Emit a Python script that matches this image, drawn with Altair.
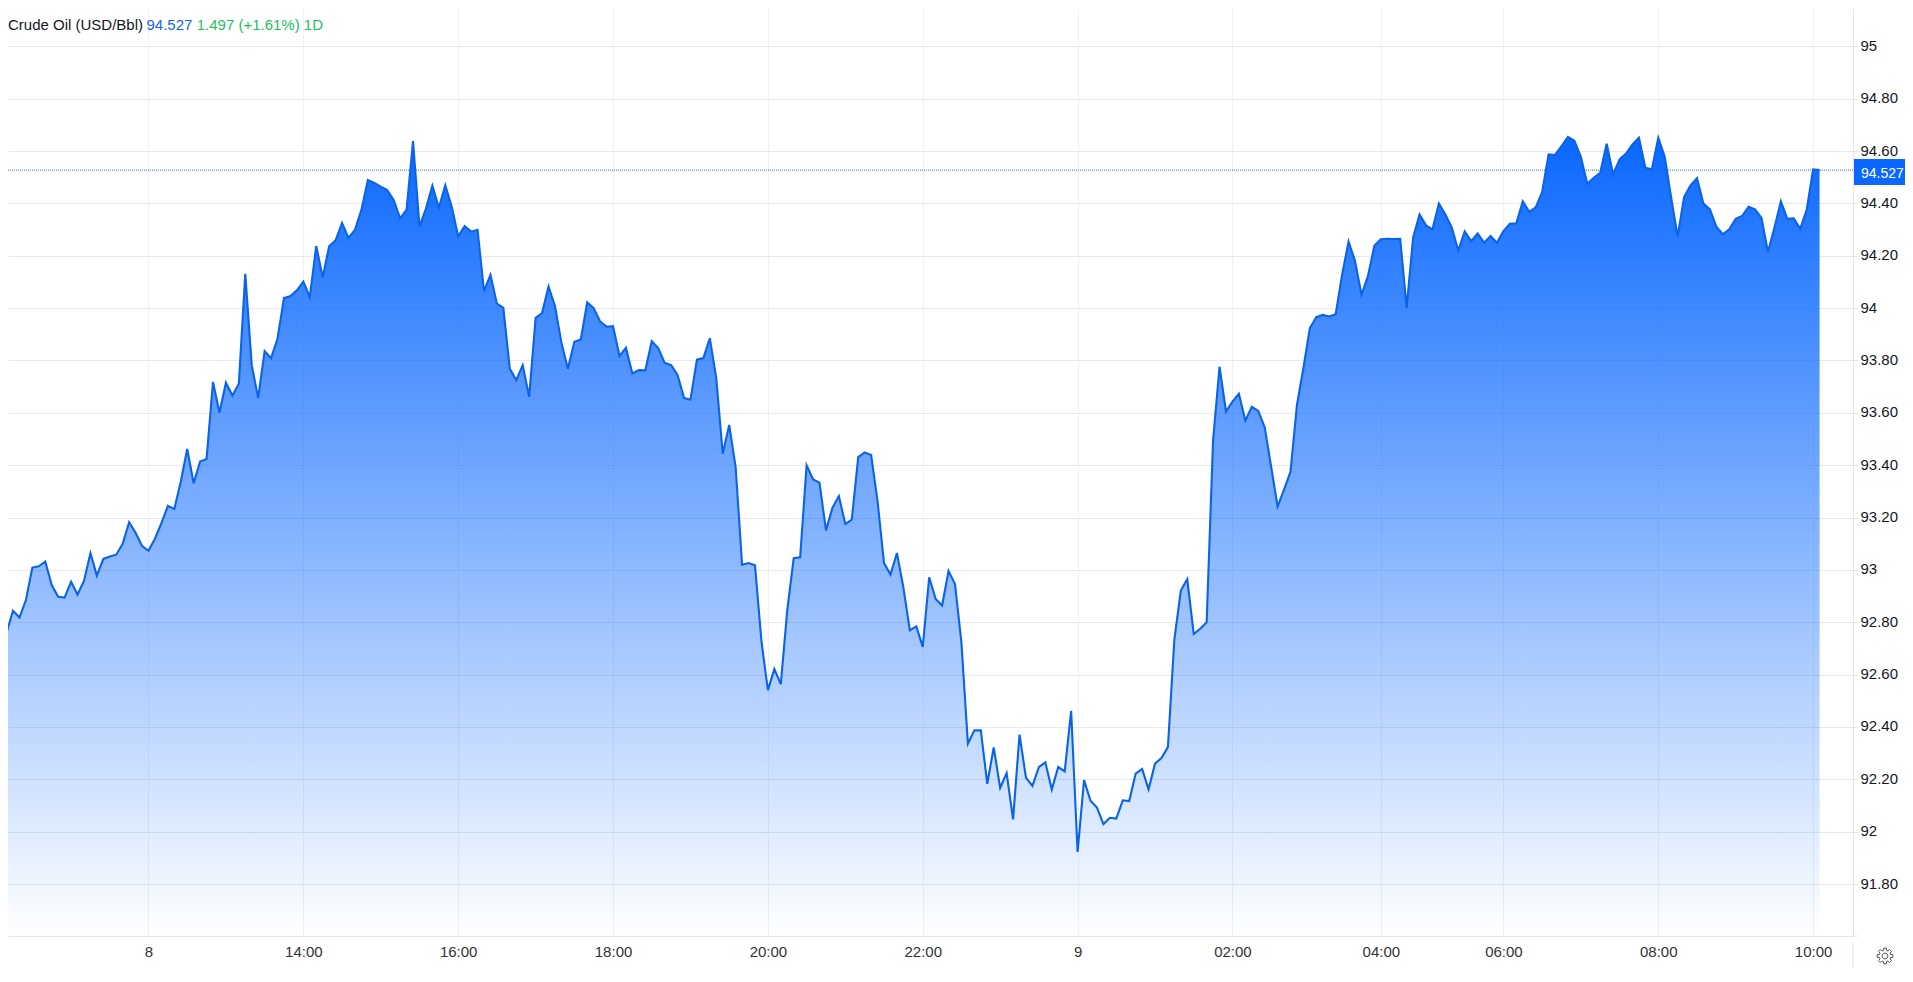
import math

import altair as alt
import pandas as pd

prices = [
    92.686, 92.76,
    92.844, 92.818, 92.885, 93.009, 93.014, 93.032, 92.942, 92.897, 92.894, 92.955,
    92.906, 92.958, 93.064, 92.978, 93.042, 93.051, 93.058, 93.10, 93.182, 93.142,
    93.091, 93.073, 93.119, 93.179, 93.244, 93.233, 93.337, 93.462, 93.331, 93.414,
    93.424, 93.718, 93.60, 93.715, 93.666, 93.711, 94.131, 93.782, 93.656, 93.836,
    93.809, 93.884, 94.038, 94.046, 94.068, 94.101, 94.042, 94.237, 94.118, 94.236,
    94.259, 94.325, 94.268, 94.299, 94.375, 94.489, 94.478, 94.464, 94.451, 94.413,
    94.343, 94.376, 94.638, 94.311, 94.38, 94.468, 94.383, 94.469, 94.387, 94.274,
    94.313, 94.292, 94.299, 94.065, 94.127, 94.017, 94.001, 93.768, 93.725, 93.782,
    93.661, 93.963, 93.981, 94.082, 94.008, 93.868, 93.768, 93.871, 93.88, 94.022,
    94.0, 93.949, 93.929, 93.931, 93.817, 93.848, 93.75, 93.763, 93.762, 93.874,
    93.847, 93.791, 93.782, 93.745, 93.657, 93.65, 93.803, 93.809, 93.885, 93.732,
    93.444, 93.554, 93.393, 93.02, 93.026, 93.018, 92.728, 92.541, 92.621, 92.564,
    92.845, 93.045, 93.048, 93.399, 93.346, 93.333, 93.151, 93.237, 93.282, 93.175,
    93.192, 93.431, 93.449, 93.439, 93.262, 93.026, 92.982, 93.064, 92.933, 92.769,
    92.784, 92.706, 92.972, 92.889, 92.864, 92.996, 92.946, 92.721, 92.336, 92.387,
    92.387, 92.183, 92.322, 92.167, 92.224, 92.047, 92.371, 92.206, 92.175, 92.247,
    92.265, 92.161, 92.247, 92.23, 92.462, 91.923, 92.197, 92.118, 92.092, 92.029,
    92.053, 92.05, 92.12, 92.117, 92.222, 92.24, 92.162, 92.26, 92.281, 92.323,
    92.735, 92.921, 92.965, 92.755, 92.775, 92.80, 93.496, 93.776, 93.605, 93.643,
    93.673, 93.57, 93.623, 93.607, 93.545, 93.394, 93.242, 93.307, 93.375, 93.63,
    93.771, 93.924, 93.966, 93.974, 93.968, 93.977, 94.128, 94.254, 94.18, 94.051,
    94.122, 94.238, 94.263, 94.265, 94.264, 94.265, 94.001, 94.269, 94.358, 94.316,
    94.301, 94.40, 94.358, 94.307, 94.22, 94.293, 94.256, 94.285, 94.25, 94.275,
    94.25, 94.294, 94.322, 94.324, 94.408, 94.368, 94.385, 94.443, 94.587, 94.585,
    94.619, 94.654, 94.639, 94.578, 94.475, 94.498, 94.517, 94.628, 94.511, 94.568,
    94.59, 94.625, 94.651, 94.536, 94.53, 94.651, 94.578, 94.422, 94.273, 94.424,
    94.469, 94.496, 94.399, 94.377, 94.311, 94.282, 94.301, 94.341, 94.352, 94.387,
    94.377, 94.344, 94.214, 94.307, 94.408, 94.341, 94.343, 94.303, 94.375, 94.53,
    94.527,
]
steps = list(range(-2, len(prices) - 2))

y_ticks = [95, 94.8, 94.6, 94.4, 94.2, 94, 93.8, 93.6, 93.4, 93.2, 93, 92.8, 92.6, 92.4, 92.2, 92, 91.8]
x_ticks = [21, 45, 69, 93, 117, 141, 165, 189, 212, 231, 255, 279]
x_labels = ["8", "14:00", "16:00", "18:00", "20:00", "22:00", "9", "02:00", "04:00", "06:00", "08:00", "10:00"]
last_price = 94.527
y_min, y_max = 91.6016, 95.1463

W, H = 1845, 928
FONT = "Liberation Sans"
BLUE = "#0a68ff"
GREEN = "#22c05f"

df = pd.DataFrame({"step": steps, "price": prices})
df["base"] = y_min

x_scale = alt.Scale(domain=[-0.775, 285.18], nice=False, zero=False)
y_scale = alt.Scale(domain=[y_min, y_max], nice=False, zero=False)

label_map = ",".join(f"{t}:'{l}'" for t, l in zip(x_ticks, x_labels))

x_axis = alt.Axis(
    values=x_ticks,
    labelExpr="{" + label_map + "}[datum.value]",
    title=None,
    grid=True,
    gridColor="#eff1f6",
    gridWidth=1,
    ticks=False,
    domainColor="#e0e3eb",
    labelFont=FONT,
    labelFontSize=15,
    labelColor="#333333",
    labelPadding=8,
    labelOverlap=False,
    labelFlush=False,
)
y_axis = alt.Axis(
    orient="right",
    values=y_ticks,
    labelExpr="datum.value == floor(datum.value) ? format(datum.value, 'd') : format(datum.value, '.2f')",
    title=None,
    grid=True,
    gridColor="#e9e9e9",
    gridWidth=1,
    tickColor="#e6e6e6",
    tickSize=5,
    domainColor="#e0e3eb",
    labelFont=FONT,
    labelFontSize=15,
    labelColor="#131722",
    labelPadding=2,
    labelOffset=-1,
    labelOverlap=False,
)

# dotted line sits behind the area, it only shows where the price is below it
price_line = (
    alt.Chart(pd.DataFrame({"price": [last_price]}))
    .mark_rule(color="#5f86ac", strokeWidth=1.2, strokeDash=[1, 1])
    .encode(y=alt.Y("price:Q", scale=y_scale, axis=y_axis))
)

area = (
    alt.Chart(df)
    .mark_area(
        interpolate="linear",
        fill=alt.Gradient(
            gradient="linear",
            x1=0, x2=0, y1=0, y2=1,
            stops=[
                alt.GradientStop(color="rgba(10,104,255,1)", offset=0),
                alt.GradientStop(color="rgba(10,104,255,0)", offset=1),
            ],
        ),
    )
    .encode(
        x=alt.X("step:Q", scale=x_scale, axis=x_axis),
        y=alt.Y("price:Q", scale=y_scale, axis=y_axis),
        y2="base:Q",
    )
)

line = (
    alt.Chart(df)
    .mark_line(color="#0b63e5", strokeWidth=2.1, interpolate="linear")
    .encode(
        x=alt.X("step:Q", scale=x_scale, axis=x_axis),
        y=alt.Y("price:Q", scale=y_scale, axis=y_axis),
    )
)

flag = alt.Chart().mark_rect(color=BLUE).encode(
    x=alt.value(W + 1), x2=alt.value(W + 52), y=alt.value(151), y2=alt.value(177)
)


def label(text, x, y, color, size=15):
    return alt.Chart().mark_text(
        align="left", baseline="middle", font=FONT, fontSize=size, color=color
    ).encode(x=alt.value(x), y=alt.value(y), text=alt.value(text))


# settings gear under the price scale
gear = []
for k in range(8):
    a = k * math.pi / 4
    for r, d in [(0.72, -0.26), (1.0, -0.17), (1.0, 0.17), (0.72, 0.26)]:
        gear.append(f"{r * math.sin(a + d):.3f},{-r * math.cos(a + d):.3f}")
gear_path = "M" + "L".join(gear) + "Z"
gear_path += "M0.36,0A0.36,0.36 0 1,1 -0.36,0A0.36,0.36 0 1,1 0.36,0Z"

gear_mark = alt.Chart().mark_point(
    shape=gear_path, size=256, filled=False, color="#555555", strokeWidth=1, opacity=1
).encode(x=alt.value(W + 32), y=alt.value(948))

separator = alt.Chart().mark_rule(color="#e0e3eb").encode(
    x=alt.value(W), y=alt.value(H + 7), y2=alt.value(H + 32)
)
corner_tick = alt.Chart().mark_rule(color="#e0e3eb").encode(
    x=alt.value(W), x2=alt.value(W + 5), y=alt.value(H)
)

chart = alt.layer(
    price_line,
    area,
    line,
    corner_tick,
    separator,
    flag,
    label("94.527", W + 8, 166, "#ffffff", size=14),
    label("Crude Oil (USD/Bbl)", 0, 17, "#131722"),
    label("94.527", 138.5, 17, "#1565f0"),
    label("1.497 (+1.61%) 1D", 188.7, 17, GREEN),
    gear_mark,
).properties(
    width=W,
    height=H,
    autosize=alt.AutoSizeParams(type="none"),
    padding={"left": 0, "top": 0, "right": 52, "bottom": 32},
    background="#ffffff",
).configure_view(stroke=None)

chart.save("out.html", embed_options={"renderer": "svg", "actions": False})
